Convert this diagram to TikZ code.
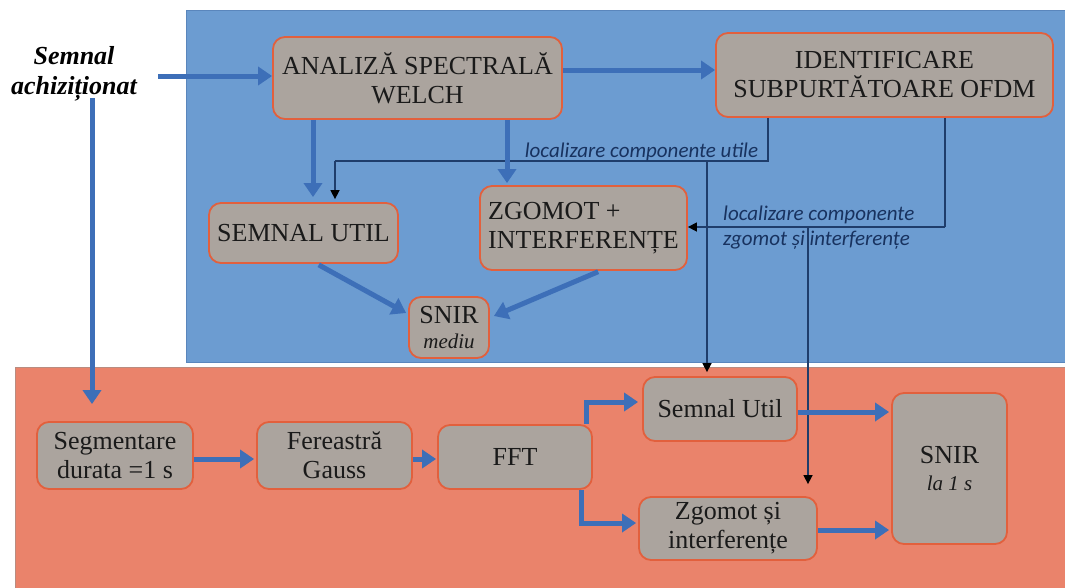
\documentclass[tikz,border=0pt]{standalone}
\usepackage{fontspec}
\setmainfont{Liberation Serif}
\newfontfamily\lblfont{Carlito}
\usetikzlibrary{arrows.meta}

\definecolor{panelblue}{HTML}{6C9CD1}
\definecolor{panelblueedge}{HTML}{5A86BC}
\definecolor{panelred}{HTML}{EA836B}
\definecolor{panelrededge}{HTML}{B98C80}
\definecolor{boxfill}{HTML}{ABA49E}
\definecolor{boxedge}{HTML}{E2603D}
\definecolor{flowblue}{HTML}{3D6FB8}
\definecolor{infoline}{HTML}{1F3D6B}
\definecolor{infotext}{HTML}{18325F}
\definecolor{boxtext}{HTML}{1A1A1A}

\tikzset{
  procbox/.style={draw=boxedge, line width=1.8pt, fill=boxfill, rounded corners=12pt,
    inner sep=0pt, align=center, text=boxtext,
    font=\fontsize{26}{29}\selectfont},
  flow/.style={draw=flowblue, line width=5pt,
    -{Triangle[length=14pt,width=18pt]}},
  info/.style={draw=infoline, line width=1.5pt},
  infoarrow/.style={info, -{Triangle[length=9pt,width=9pt,fill=black,color=black]}},
  infolabel/.style={text=infotext, inner sep=0pt, font=\lblfont\itshape\fontsize{21}{25}\selectfont},
}

\begin{document}
\begin{tikzpicture}[x=1pt,y=-1pt]
  \useasboundingbox (0,0) rectangle (1065,587);

  % background panels
  \fill[panelblue] (186,10) rectangle (1070,362);
  \draw[panelblueedge, line width=1pt] (1070,10) -- (186,10) -- (186,362) -- (1070,362);
  \fill[panelred] (15,367) rectangle (1070,592);
  \draw[panelrededge, line width=1pt] (15,592) -- (15,367) -- (1070,367);

  % input label
  \node[inner sep=0pt, align=center, text=black,
        font=\bfseries\itshape\fontsize{26}{30}\selectfont] (inp) at (74,74)
        {Semnal\\achiziționat};

  % processing blocks, upper panel
  \node[procbox, minimum width=289pt, minimum height=82pt] (ana) at (417.5,78)
        {ANALIZĂ SPECTRALĂ\\WELCH};
  \node[procbox, minimum width=337pt, minimum height=84pt] (ident) at (884.5,75)
        {IDENTIFICARE\\SUBPURTĂTOARE OFDM};
  \node[procbox, minimum width=189pt, minimum height=60pt] (util) at (303.5,233)
        {SEMNAL UTIL};
  \node[procbox, align=left, minimum width=207pt, minimum height=84pt] (zg) at (583.5,228)
        {ZGOMOT +\\INTERFERENȚE};
  \node[procbox, minimum width=80pt, minimum height=61pt] (snirm) at (449,327.5)
        {SNIR\\[-4pt]{\itshape\fontsize{21}{24}\selectfont mediu}};

  % processing blocks, lower panel
  \node[procbox, minimum width=156pt, minimum height=67pt] (seg) at (115,455.5)
        {Segmentare\\durata =1 s};
  \node[procbox, minimum width=155pt, minimum height=67pt] (fer) at (334.5,455.5)
        {Fereastră\\Gauss};
  \node[procbox, minimum width=154pt, minimum height=64pt] (fft) at (515,457)
        {FFT};
  \node[procbox, minimum width=154pt, minimum height=64pt] (su) at (720,409)
        {Semnal Util};
  \node[procbox, minimum width=178pt, minimum height=63pt] (zi) at (728,528.5)
        {Zgomot și\\interferențe};
  \node[procbox, minimum width=115pt, minimum height=151pt] (snir) at (949.5,468.5)
        {SNIR\\[-2pt]{\itshape\fontsize{21}{24}\selectfont la 1 s}};

  % guide coordinates for connector routing
  \coordinate (inA) at (158,76);
  \coordinate (inB) at (92,98);
  \coordinate (rowA) at (0,70);
  \coordinate (xU) at (313,0);
  \coordinate (xZ) at (507,0);
  \coordinate (rowL) at (0,459);
  \coordinate (rowS) at (0,412);
  \coordinate (rowZ) at (0,530);
  \coordinate (xF1) at (586,0);
  \coordinate (xF2) at (581,0);
  \coordinate (cu1) at (768,161);
  \coordinate (cu2) at (335,161);
  \coordinate (cu3) at (707,161);
  \coordinate (cz1) at (945,227);
  \coordinate (cz2) at (808,227);

  % thin information lines
  \draw[info] (ident.south -| cu1) -- (cu1) -- (cu2);
  \draw[infoarrow, shorten >=3pt] (cu2) -- (util.north -| cu2);
  \draw[infoarrow, shorten >=4pt] (cu3) -- (su.north -| cu3);
  \draw[info] (ident.south -| cz1) -- (cz1);
  \draw[infoarrow] (cz1) -- (zg.east |- cz1);
  \draw[infoarrow, shorten >=12pt] (cz2) -- (zi.north -| cz2);

  \node[infolabel, anchor=base] (lblU) at (641.5,157) {localizare componente utile};
  \node[infolabel, anchor=base west] (lblZ1) at (723,220) {localizare componente};
  \node[infolabel, anchor=base west] (lblZ2) at (723,245) {zgomot și interferențe};

  % main signal flow, upper panel
  \draw[flow] (inA) -- (ana.west |- inA);
  \draw[flow, shorten >=17pt] (inB) -- (seg.north -| inB);
  \draw[flow] (ana.east |- rowA) -- (ident.west |- rowA);
  \draw[flow, shorten >=5pt] (ana.south -| xU) -- (util.north -| xU);
  \draw[flow, shorten >=2pt] (ana.south -| xZ) -- (zg.north -| xZ);
  \draw[flow, shorten <=2pt] ([xshift=13.5pt]util.south) -- ([xshift=-2pt,yshift=14.5pt]snirm.west);
  \draw[flow, shorten <=2pt] ([xshift=16.5pt]zg.south) -- ([xshift=4pt,yshift=11.5pt]snirm.east);

  % main signal flow, lower panel
  \draw[flow, shorten >=2pt] (seg.east |- rowL) -- (fer.west |- rowL);
  \draw[flow, shorten >=1pt] (fer.east |- rowL) -- (fft.west |- rowL);
  \draw[flow, shorten >=4pt] (fft.north -| xF1) |- ([yshift=7pt]su.west);
  \draw[flow, shorten >=2pt] (fft.south -| xF2) |- ([yshift=5.5pt]zi.west);
  \draw[flow, shorten >=2pt] (su.east |- rowS) -- (snir.west |- rowS);
  \draw[flow, shorten >=2pt] (zi.east |- rowZ) -- (snir.west |- rowZ);
\end{tikzpicture}
\end{document}
